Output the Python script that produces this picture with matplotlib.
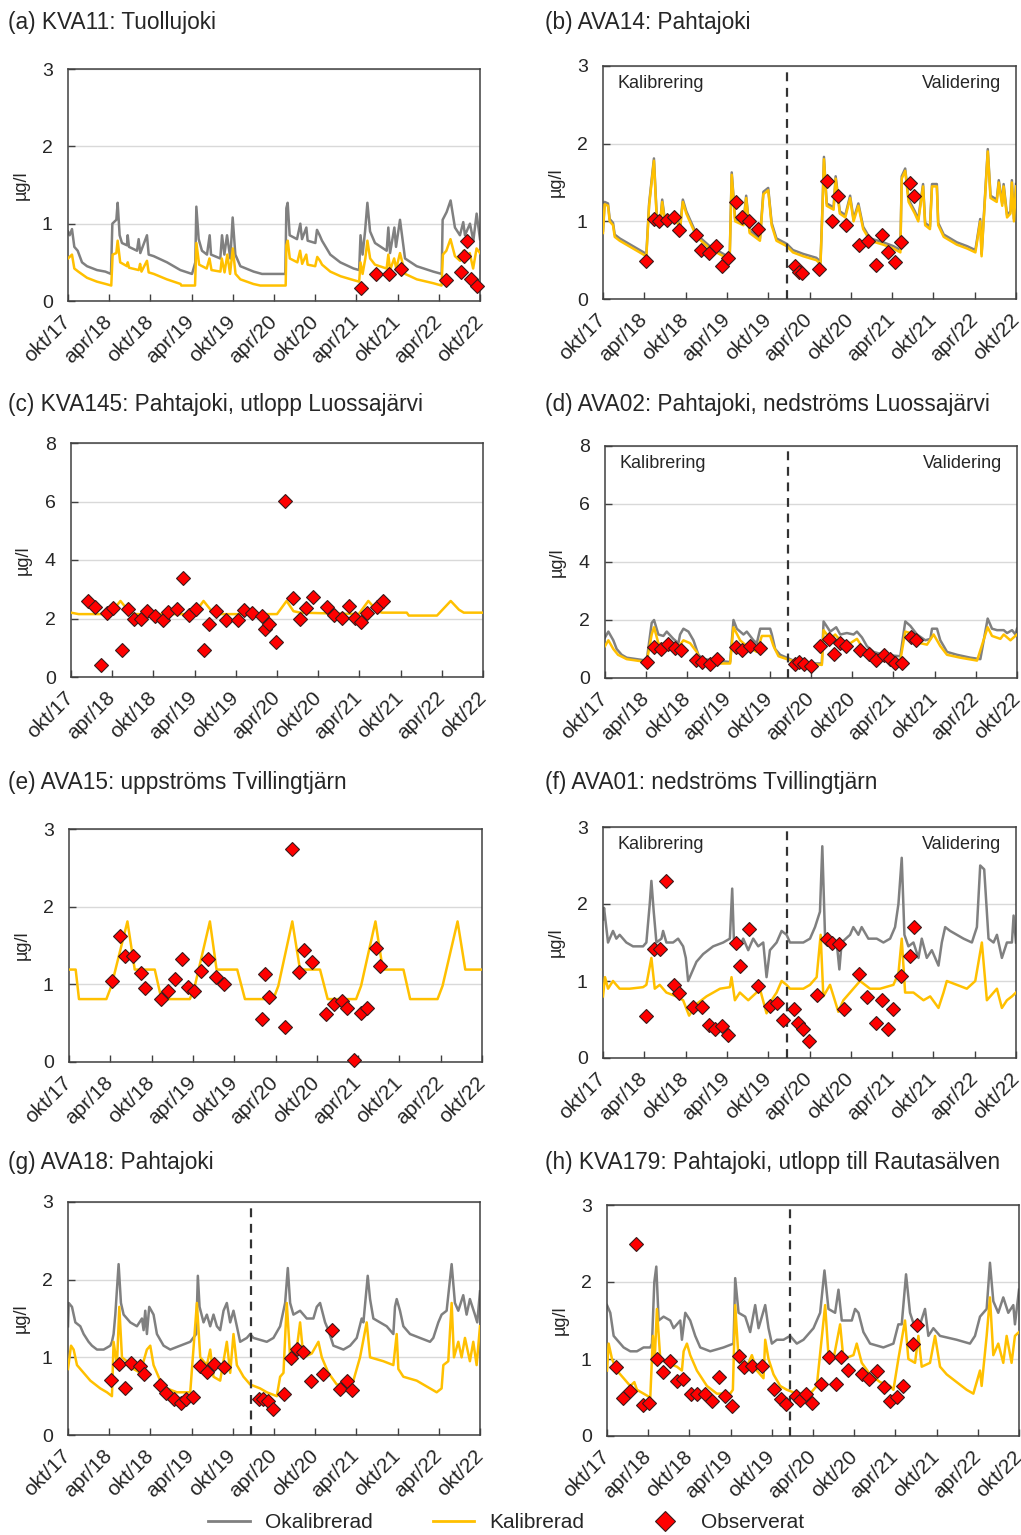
import matplotlib
matplotlib.use("Agg")
import matplotlib.pyplot as plt
from matplotlib.lines import Line2D

plt.rcParams['font.family'] = ['Liberation Sans', 'DejaVu Sans']

# x = months after okt/17
tick_pos = list(range(0, 61, 6))
tick_lab = ['okt/17', 'apr/18', 'okt/18', 'apr/19', 'okt/19', 'apr/20',
            'okt/20', 'apr/21', 'okt/21', 'apr/22', 'okt/22']
split_month = 26.7

# (a) KVA11
a_gray = [(0, 0.9), (0.24, 0.85), (0.58, 0.93), (0.92, 0.7), (1.41, 0.65), (2.04, 0.5), (2.77, 0.45),
          (4.22, 0.4), (5.44, 0.38), (6.26, 0.35), (6.46, 1.0), (7.04, 1.05), (7.23, 1.27), (7.52, 0.85),
          (7.86, 0.75), (8.59, 0.72), (8.69, 0.85), (8.88, 0.7), (10.05, 0.65), (10.29, 0.8), (10.53, 0.62),
          (11.5, 0.85), (11.75, 0.6), (12.48, 0.58), (14.42, 0.5), (16.36, 0.4), (18.06, 0.35), (18.54, 0.5),
          (18.69, 1.22), (19.03, 0.8), (19.51, 0.65), (20.24, 0.6), (20.63, 0.85), (20.83, 0.6), (22.18, 0.55),
          (22.43, 0.85), (22.77, 0.6), (23.16, 0.85), (23.64, 0.55), (23.98, 1.08), (24.37, 0.6), (25.1, 0.45),
          (27.04, 0.38), (28.25, 0.35), (31.65, 0.35), (31.8, 1.2), (31.99, 1.27), (32.28, 0.85), (33.35, 0.8),
          (33.83, 1.0), (34.08, 0.8), (34.71, 0.95), (34.9, 0.78), (36.02, 0.75), (36.26, 0.92), (36.65, 0.85),
          (36.99, 0.78), (38.2, 0.6), (39.65, 0.5), (41.59, 0.42), (42.4, 0.4), (42.6, 0.85), (42.9, 0.6),
          (43.26, 0.9), (43.6, 1.27), (43.99, 0.9), (44.71, 0.75), (46.41, 0.65), (46.65, 0.95), (46.9, 0.62),
          (47.53, 0.95), (47.77, 0.7), (48.35, 1.05), (49.08, 0.55), (50.78, 0.45), (53.2, 0.38), (54.42, 0.35),
          (54.56, 1.05), (55.14, 1.15), (55.72, 1.3), (56.35, 0.95), (57.08, 0.85), (57.56, 1.02), (57.81, 0.85),
          (58.54, 1.0), (59.03, 0.78), (59.51, 1.13), (60, 0.8)]
a_yel = [(0, 0.55), (0.58, 0.6), (0.92, 0.42), (1.5, 0.38), (2.77, 0.3), (4.22, 0.25), (5.5, 0.22), (6.3, 0.2),
         (6.5, 0.6), (7.04, 0.62), (7.23, 0.78), (7.6, 0.5), (8.6, 0.45), (8.7, 0.5), (8.9, 0.43), (10.3, 0.4),
         (10.5, 0.48), (10.7, 0.38), (11.5, 0.52), (11.75, 0.37), (12.5, 0.35), (14.4, 0.28), (16.4, 0.22),
         (16.5, 0.2), (18.5, 0.2), (18.7, 0.75), (19.1, 0.47), (20.2, 0.42), (20.6, 0.55), (20.9, 0.4),
         (22.2, 0.38), (22.4, 0.55), (22.8, 0.37), (23.2, 0.6), (23.6, 0.35), (24.0, 0.68), (24.4, 0.35),
         (25.1, 0.28), (27.0, 0.22), (28.0, 0.2), (31.7, 0.2), (31.8, 0.72), (32.0, 0.78), (32.3, 0.55),
         (33.4, 0.5), (33.8, 0.65), (34.1, 0.48), (34.7, 0.6), (34.9, 0.47), (36.0, 0.45), (36.3, 0.57),
         (36.7, 0.52), (37.0, 0.47), (38.2, 0.38), (39.7, 0.32), (41.6, 0.27), (42.4, 0.25), (42.6, 0.5),
         (42.9, 0.35), (43.3, 0.55), (43.6, 0.78), (44.0, 0.55), (44.7, 0.47), (46.4, 0.42), (46.65, 0.6),
         (46.9, 0.4), (47.5, 0.55), (47.8, 0.42), (48.35, 0.62), (49.1, 0.35), (50.8, 0.28), (53.2, 0.23),
         (54.4, 0.2), (54.6, 0.6), (55.1, 0.65), (55.7, 0.8), (56.35, 0.58), (57.1, 0.52), (57.6, 0.65),
         (57.8, 0.5), (58.5, 0.62), (59.0, 0.42), (59.5, 0.68), (60, 0.62)]
a_obs = [(42.7, 0.17), (44.9, 0.35), (46.8, 0.35), (48.5, 0.41), (55.0, 0.27), (57.2, 0.38), (57.6, 0.58),
         (58.1, 0.77), (58.7, 0.29), (59.6, 0.19)]

# (b) AVA14
b_months = [0, 0.24, 0.73, 0.97, 1.46, 1.7, 2.43, 6.3, 6.7, 7.4, 7.8, 8.35, 8.6, 8.97, 10.7, 11.2, 11.6, 12.1,
            13.6, 15.5, 17.5, 18.4, 18.7, 19.2, 20.4, 20.8, 21.3, 22.8, 23.3, 24.0, 24.5, 25.2, 26.7, 27.6, 29.1,
            31.0, 31.6, 31.9, 32.1, 32.5, 33.5, 33.8, 34.4, 35.2, 35.9, 36.4, 37.1, 37.8, 38.8, 40.7, 42.2, 43.2,
            43.4, 43.9, 44.4, 45.3, 45.8, 46.5, 46.8, 47.5, 47.8, 48.5, 48.7, 49.5, 51.4, 52.9, 54.1, 54.8, 55.0,
            55.9, 56.3, 57.2, 57.5, 58.0, 58.2, 58.7, 59.2, 59.4, 59.7, 60]
b_yel = [0.85, 1.22, 1.2, 1.0, 0.95, 0.8, 0.75, 0.55, 1.2, 1.78, 1.05, 1.0, 1.25, 1.0, 1.0, 0.9, 1.25, 1.1, 0.8,
         0.65, 0.55, 0.5, 1.6, 1.0, 0.95, 1.3, 0.85, 0.75, 1.35, 1.4, 0.95, 0.75, 0.68, 0.6, 0.55, 0.5, 0.45, 1.2,
         1.8, 1.2, 1.15, 1.55, 1.1, 1.05, 1.3, 1.0, 1.2, 0.9, 0.75, 0.7, 0.65, 0.6, 1.55, 1.65, 1.25, 1.1, 1.0,
         1.45, 0.95, 0.9, 1.45, 1.45, 0.95, 0.8, 0.7, 0.65, 0.6, 1.0, 0.55, 1.9, 1.3, 1.25, 1.5, 1.2, 1.45, 1.05,
         1.1, 1.5, 1.0, 1.45]
b_gray = [0.88, 1.25, 1.23, 1.03, 0.98, 0.83, 0.78, 0.58, 1.23, 1.81, 1.08, 1.03, 1.28, 1.03, 1.03, 0.93, 1.28,
          1.13, 0.83, 0.68, 0.58, 0.53, 1.63, 1.03, 0.98, 1.33, 0.88, 0.78, 1.38, 1.43, 0.98, 0.78, 0.71, 0.63,
          0.58, 0.53, 0.48, 1.23, 1.83, 1.23, 1.18, 1.58, 1.13, 1.08, 1.33, 1.03, 1.23, 0.93, 0.78, 0.73, 0.68,
          0.63, 1.58, 1.68, 1.28, 1.13, 1.03, 1.48, 0.98, 0.93, 1.48, 1.48, 0.98, 0.83, 0.73, 0.68, 0.63, 1.03,
          0.58, 1.93, 1.33, 1.28, 1.53, 1.23, 1.48, 1.08, 1.13, 1.53, 1.03, 1.48]
b_obs = [(6.3, 0.49), (7.37, 1.03), (8.15, 1.0), (9.31, 1.02), (10.33, 1.06), (11.11, 0.89), (13.48, 0.82),
         (14.21, 0.63), (15.37, 0.59), (16.39, 0.68), (17.31, 0.42), (18.19, 0.53), (19.25, 1.25), (20.13, 1.06),
         (21.24, 1.0), (22.5, 0.9), (27.89, 0.42), (28.42, 0.35), (28.95, 0.34), (31.43, 0.38), (32.49, 1.52),
         (33.32, 1.0), (34.19, 1.33), (35.31, 0.95), (37.2, 0.7), (38.55, 0.75), (39.67, 0.44), (40.5, 0.83),
         (41.37, 0.6), (42.43, 0.47), (43.31, 0.73), (44.62, 1.5), (45.25, 1.33)]

# (c) KVA145
c_yel = [(0, 2.2), (1.1, 2.15), (5.7, 2.15), (7.2, 2.6), (8.4, 2.25), (9.1, 2.15), (17.9, 2.15), (19.3, 2.6),
         (20.5, 2.25), (21.3, 2.15), (30.0, 2.15), (31.4, 2.6), (32.4, 2.25), (33.4, 2.2), (41.9, 2.15),
         (43.3, 2.6), (44.6, 2.25), (45.3, 2.2), (48.9, 2.2), (49.2, 2.1), (53.3, 2.1), (55.3, 2.6), (56.5, 2.3),
         (57.2, 2.2), (60, 2.2)]
c_obs = [(2.43, 2.61), (3.54, 2.38), (4.37, 0.40), (5.24, 2.18), (6.12, 2.37), (7.43, 0.92), (8.25, 2.34),
         (9.13, 1.97), (10.24, 1.97), (11.07, 2.26), (12.28, 2.09), (13.35, 1.95), (14.13, 2.23), (15.44, 2.34),
         (16.26, 3.40), (17.23, 2.12), (18.25, 2.34), (19.32, 0.92), (20.05, 1.81), (21.12, 2.26), (22.62, 1.95),
         (24.32, 1.95), (25.15, 2.29), (26.36, 2.18), (27.82, 2.09), (28.3, 1.63), (28.88, 1.81), (29.9, 1.20),
         (31.21, 6.01), (32.33, 2.69), (33.4, 1.97), (34.27, 2.35), (35.19, 2.75), (37.28, 2.38), (38.35, 2.12),
         (39.47, 2.03), (40.53, 2.43), (41.41, 2.01), (42.28, 1.89), (43.11, 2.18), (44.56, 2.41), (45.39, 2.61)]

# (d) AVA02
d_gray = [(0, 1.4), (0.49, 1.6), (1.21, 1.3), (1.7, 1.0), (2.43, 0.8), (3.16, 0.7), (4.62, 0.65), (6.07, 0.6),
          (6.8, 1.9), (7.14, 2.0), (7.77, 1.5), (8.5, 1.45), (8.99, 1.6), (9.96, 1.35), (10.69, 1.2), (10.93, 1.5),
          (11.42, 1.7), (12.15, 1.6), (12.88, 1.3), (13.6, 0.8), (14.33, 0.65), (16.28, 0.6), (18.22, 0.55),
          (18.71, 2.0), (19.19, 1.7), (20.17, 1.5), (20.65, 1.6), (21.62, 1.3), (22.11, 1.2), (22.6, 1.7),
          (24.05, 1.7), (24.3, 1.5), (24.78, 1.0), (25.51, 0.8), (26.48, 0.7), (27.45, 0.6), (29.88, 0.5),
          (31.58, 0.5), (31.83, 1.95), (32.8, 1.6), (33.67, 1.75), (34.26, 1.5), (35.23, 1.55), (36.2, 1.5),
          (36.69, 1.6), (37.42, 1.4), (38.14, 1.1), (39.12, 0.9), (40.57, 0.8), (43.0, 0.75), (43.73, 1.95),
          (44.46, 1.8), (45.43, 1.5), (46.65, 1.3), (47.38, 1.35), (47.62, 1.7), (48.35, 1.7), (48.83, 1.3),
          (49.81, 0.9), (51.26, 0.8), (53.21, 0.7), (54.66, 0.65), (55.73, 2.05), (56.36, 1.7), (57.09, 1.65),
          (58.07, 1.65), (58.55, 1.55), (59.28, 1.65), (59.77, 1.5), (60, 1.7)]
d_yel = [(0, 1.1), (0.49, 1.3), (1.21, 1.0), (1.9, 0.8), (3.16, 0.65), (4.62, 0.6), (6.07, 0.55), (6.8, 1.5),
         (7.14, 1.75), (7.77, 1.2), (8.99, 1.1), (10.45, 1.0), (11.42, 1.3), (12.39, 1.2), (13.36, 0.9),
         (13.85, 0.6), (16.28, 0.5), (18.22, 0.5), (18.71, 1.75), (19.68, 1.3), (20.65, 1.1), (22.11, 0.9),
         (22.84, 1.45), (24.05, 1.45), (24.54, 1.1), (25.27, 0.75), (26.48, 0.65), (27.94, 0.55), (31.58, 0.45),
         (31.83, 1.65), (32.8, 1.35), (33.53, 1.5), (34.26, 1.3), (35.72, 1.2), (36.69, 1.35), (37.66, 1.0),
         (39.12, 0.75), (41.06, 0.65), (43.0, 0.6), (43.73, 1.6), (44.46, 1.55), (45.92, 1.2), (46.89, 1.15),
         (47.86, 1.5), (48.83, 1.1), (49.81, 0.8), (51.75, 0.7), (54.18, 0.6), (55.73, 1.75), (56.36, 1.45),
         (57.58, 1.35), (58.07, 1.5), (59.04, 1.3), (60, 1.5)]
d_obs = [(6.07, 0.54), (7.14, 1.07), (8.11, 1.01), (9.14, 1.16), (10.2, 1.04), (11.03, 0.96), (13.22, 0.63),
         (14.19, 0.54), (15.31, 0.47), (16.28, 0.67), (19.1, 1.07), (19.92, 0.96), (21.14, 1.09), (22.5, 1.05),
         (27.7, 0.47), (28.18, 0.54), (29.01, 0.47), (29.98, 0.40), (31.24, 1.10), (32.56, 1.36), (33.38, 0.84),
         (34.26, 1.21), (35.13, 1.10), (37.17, 0.96), (38.39, 0.84), (39.46, 0.63), (40.57, 0.78), (41.45, 0.67),
         (42.27, 0.53), (43.25, 0.53), (44.61, 1.42), (45.34, 1.32)]

# (e) AVA15
e_yel = [(0, 1.19), (0.97, 1.19), (1.45, 0.81), (5.43, 0.81), (6.16, 0.98), (8.49, 1.81), (9.55, 1.19),
         (12.46, 1.19), (13.43, 0.81), (17.56, 0.81), (18.28, 0.98), (20.47, 1.81), (21.44, 1.19), (24.44, 1.19),
         (25.56, 0.81), (29.68, 0.81), (30.41, 0.98), (32.44, 1.81), (33.56, 1.19), (36.47, 1.19), (37.58, 0.81),
         (41.71, 0.81), (42.43, 0.98), (44.52, 1.81), (45.59, 1.19), (48.59, 1.19), (49.56, 0.81), (53.54, 0.81),
         (54.27, 0.98), (56.45, 1.81), (57.57, 1.19), (60, 1.19)]
e_obs = [(6.26, 1.04), (7.37, 1.62), (8.2, 1.36), (9.31, 1.36), (10.43, 1.15), (11.11, 0.95), (13.43, 0.81),
         (14.4, 0.91), (15.37, 1.07), (16.44, 1.32), (17.31, 0.96), (18.19, 0.91), (19.16, 1.17), (20.22, 1.32),
         (21.29, 1.09), (22.55, 1.00), (27.98, 0.56), (28.47, 1.13), (29.05, 0.84), (31.38, 0.45), (32.44, 2.74),
         (33.41, 1.16), (34.14, 1.44), (35.26, 1.29), (37.29, 0.62), (38.51, 0.75), (39.62, 0.79), (40.45, 0.69),
         (41.42, 0.02), (42.39, 0.63), (43.36, 0.69), (44.57, 1.47), (45.2, 1.24)]

# (f) AVA01
f_gray = [(0, 1.8), (0.15, 1.95), (0.73, 1.5), (1.45, 1.65), (1.94, 1.55), (2.42, 1.6), (3.39, 1.5), (4.36, 1.45),
          (5.82, 1.45), (6.3, 1.5), (6.79, 2.0), (7.03, 2.3), (7.37, 1.9), (7.76, 1.5), (8.49, 1.55), (8.73, 1.65),
          (9.21, 1.5), (10.18, 1.5), (10.91, 1.55), (11.64, 1.45), (12.03, 1.3), (12.37, 1.0), (12.85, 1.1),
          (13.58, 1.25), (14.55, 1.35), (16.0, 1.45), (17.46, 1.5), (18.43, 1.55), (18.77, 2.2), (19.01, 1.55),
          (19.88, 1.45), (20.37, 1.55), (21.1, 1.4), (21.82, 1.55), (22.55, 1.45), (23.28, 1.5), (23.76, 1.05),
          (24.25, 1.4), (25.22, 1.5), (25.95, 1.65), (26.67, 1.6), (27.16, 1.5), (29.1, 1.5), (30.07, 1.55),
          (30.8, 1.7), (31.52, 1.9), (31.86, 2.75), (32.25, 1.6), (32.98, 1.5), (33.95, 1.5), (34.34, 1.15),
          (34.67, 1.5), (35.89, 1.6), (36.37, 1.7), (37.1, 1.6), (37.58, 1.7), (38.55, 1.55), (39.77, 1.55),
          (40.74, 1.5), (41.71, 1.55), (42.43, 1.7), (42.92, 2.0), (43.4, 2.6), (43.79, 1.6), (44.37, 1.45),
          (45.1, 1.5), (45.83, 1.3), (46.31, 1.55), (47.04, 1.3), (47.77, 1.4), (48.74, 1.2), (49.22, 1.5),
          (49.71, 1.7), (50.44, 1.65), (52.38, 1.55), (53.59, 1.5), (54.32, 1.7), (54.8, 2.5), (55.38, 2.45),
          (56.01, 1.55), (56.74, 1.5), (57.23, 1.6), (57.95, 1.3), (58.68, 1.5), (59.41, 1.5), (59.65, 1.85),
          (60, 1.5)]
f_yel = [(0, 0.8), (0.29, 1.05), (0.73, 0.9), (1.45, 1.0), (2.42, 0.9), (3.88, 0.9), (5.82, 0.92), (6.3, 0.95),
         (7.03, 1.3), (7.52, 0.9), (8.24, 0.95), (9.21, 0.85), (10.67, 0.8), (11.64, 0.75), (12.51, 0.55),
         (13.58, 0.7), (15.03, 0.8), (17.0, 0.9), (18.43, 0.92), (18.67, 1.05), (19.16, 0.75), (19.88, 0.85),
         (21.1, 0.75), (22.31, 0.85), (22.79, 0.9), (23.76, 0.58), (24.49, 0.75), (25.22, 0.85), (25.95, 1.0),
         (26.67, 0.95), (27.16, 0.9), (29.1, 0.9), (30.07, 0.95), (31.04, 1.05), (31.62, 1.6), (32.01, 0.8),
         (32.98, 0.95), (34.19, 0.6), (34.92, 0.75), (35.89, 0.85), (36.86, 0.95), (37.34, 1.0), (38.8, 0.9),
         (40.26, 0.9), (42.19, 0.95), (42.92, 1.1), (43.4, 1.55), (43.89, 0.85), (45.1, 0.85), (46.56, 0.75),
         (47.53, 0.8), (48.74, 0.65), (49.47, 0.85), (49.95, 1.0), (51.41, 0.95), (52.86, 0.9), (54.08, 1.0),
         (55.04, 1.5), (55.77, 0.75), (56.74, 0.85), (57.23, 0.9), (57.95, 0.65), (58.68, 0.75), (59.41, 0.8),
         (60, 0.85)]
f_obs = [(6.3, 0.55), (7.37, 1.42), (8.24, 1.42), (9.12, 2.30), (10.33, 0.95), (11.06, 0.84), (13.09, 0.66),
         (14.31, 0.66), (15.37, 0.43), (16.25, 0.38), (17.31, 0.42), (18.19, 0.30), (19.3, 1.49), (19.88, 1.19),
         (21.19, 1.68), (22.45, 0.93), (24.25, 0.67), (25.32, 0.72), (26.19, 0.50), (27.74, 0.63), (28.37, 0.45),
         (29.0, 0.38), (29.92, 0.22), (31.13, 0.82), (32.49, 1.55), (33.32, 1.49), (34.29, 1.48), (35.06, 0.63),
         (37.2, 1.09), (38.31, 0.79), (39.62, 0.45), (40.5, 0.75), (41.37, 0.38), (42.19, 0.63), (43.31, 1.07),
         (44.62, 1.32), (45.25, 1.70)]

# (g) AVA18
g_gray = [(0, 1.4), (0.1, 1.7), (0.58, 1.65), (1.07, 1.45), (1.79, 1.4), (2.28, 1.3), (3.0, 1.2), (3.49, 1.15),
          (4.22, 1.1), (5.19, 1.1), (6.16, 1.15), (6.4, 1.2), (6.64, 1.3), (6.89, 1.55), (7.37, 2.2), (7.71, 1.7),
          (8.1, 1.55), (9.07, 1.45), (10.04, 1.4), (10.77, 1.5), (11.01, 1.35), (11.25, 1.6), (11.49, 1.3),
          (11.83, 1.65), (12.46, 1.55), (12.95, 1.3), (13.92, 1.15), (14.89, 1.1), (16.34, 1.15), (17.8, 1.2),
          (18.67, 1.3), (18.91, 2.05), (19.16, 1.65), (19.74, 1.45), (20.22, 1.55), (20.71, 1.4), (21.19, 1.55),
          (21.68, 1.4), (22.16, 1.35), (22.65, 1.6), (23.13, 1.7), (23.62, 1.45), (24.1, 1.6), (24.59, 1.4),
          (25.07, 1.2), (26.04, 1.25), (26.53, 1.3), (27.01, 1.25), (28.95, 1.2), (29.92, 1.25), (30.89, 1.4),
          (31.62, 1.7), (32.01, 2.15), (32.35, 1.7), (32.83, 1.55), (33.8, 1.6), (34.77, 1.5), (35.74, 1.5),
          (36.23, 1.65), (36.71, 1.7), (37.44, 1.45), (37.92, 1.35), (38.65, 1.15), (40.11, 1.1), (41.08, 1.15),
          (42.05, 1.25), (42.77, 1.5), (43.02, 1.45), (43.65, 2.05), (43.99, 1.75), (44.47, 1.5), (45.44, 1.45),
          (46.41, 1.4), (47.38, 1.3), (47.62, 1.65), (47.87, 1.75), (48.35, 1.6), (48.84, 1.4), (49.81, 1.3),
          (51.26, 1.25), (52.72, 1.2), (53.2, 1.25), (53.93, 1.45), (54.41, 1.55), (55.14, 1.6), (55.87, 2.2),
          (56.35, 1.7), (56.84, 1.6), (57.56, 1.8), (58.05, 1.55), (58.53, 1.75), (59.26, 1.55), (59.6, 1.45),
          (60, 1.85)]
g_yel = [(0, 0.85), (0.44, 1.15), (0.82, 1.1), (1.31, 0.9), (2.28, 0.8), (3.25, 0.7), (4.7, 0.6), (5.67, 0.55),
         (6.4, 0.5), (6.64, 1.2), (7.13, 0.9), (7.47, 1.65), (7.86, 1.0), (8.58, 0.95), (9.55, 0.85), (10.52, 0.8),
         (11.49, 1.1), (11.98, 1.15), (12.46, 0.9), (13.43, 0.7), (14.4, 0.6), (15.86, 0.55), (17.8, 0.55),
         (18.77, 1.7), (19.26, 1.0), (20.22, 0.9), (20.71, 1.1), (21.19, 0.75), (22.16, 0.7), (23.13, 1.2),
         (23.62, 0.8), (24.1, 1.3), (24.59, 0.9), (25.56, 0.75), (26.53, 0.65), (27.98, 0.6), (28.95, 0.55),
         (30.41, 0.5), (30.89, 0.75), (31.38, 0.8), (31.86, 1.7), (32.35, 1.0), (33.08, 0.95), (33.8, 1.45),
         (34.29, 1.0), (35.5, 1.05), (36.47, 1.2), (36.96, 1.0), (37.92, 0.8), (39.14, 0.65), (40.59, 0.65),
         (41.56, 0.7), (42.53, 1.0), (43.5, 1.45), (43.99, 1.0), (45.93, 0.95), (47.38, 0.9), (47.87, 1.3),
         (48.11, 0.85), (48.84, 0.75), (50.78, 0.7), (52.72, 0.6), (53.69, 0.55), (54.41, 0.6), (54.66, 0.9),
         (55.38, 0.95), (55.87, 1.7), (56.21, 1.0), (56.84, 1.2), (57.32, 1.0), (57.81, 1.25), (58.53, 0.95),
         (59.02, 1.2), (59.51, 0.9), (60, 1.4)]
g_obs = [(6.3, 0.71), (7.37, 0.91), (8.24, 0.61), (9.21, 0.93), (10.52, 0.89), (11.11, 0.78), (13.43, 0.65),
         (14.31, 0.54), (15.37, 0.46), (16.44, 0.41), (17.22, 0.46), (18.19, 0.49), (19.25, 0.89), (20.22, 0.81),
         (21.19, 0.91), (22.65, 0.88), (27.84, 0.46), (28.47, 0.46), (29.1, 0.44), (29.92, 0.34), (31.47, 0.53),
         (32.49, 0.99), (33.32, 1.11), (34.19, 1.07), (35.35, 0.69), (37.2, 0.78), (38.51, 1.35), (39.62, 0.59),
         (40.59, 0.69), (41.42, 0.58)]

# (h) KVA179
h_gray = [(0, 1.7), (0.48, 1.6), (0.97, 1.3), (1.45, 1.25), (2.42, 1.15), (3.39, 1.1), (4.36, 1.1), (5.33, 1.15),
          (6.3, 1.15), (6.55, 1.2), (6.89, 2.0), (7.18, 2.2), (7.52, 1.5), (8.24, 1.55), (9.21, 1.5), (9.7, 1.4),
          (10.67, 1.5), (10.91, 1.25), (11.4, 1.6), (12.12, 1.5), (12.85, 1.3), (13.58, 1.15), (15.03, 1.1),
          (16.97, 1.15), (18.43, 1.2), (18.67, 2.05), (19.16, 1.6), (20.13, 1.55), (20.85, 1.35), (21.58, 1.7),
          (22.07, 1.4), (23.04, 1.7), (23.52, 1.4), (24.01, 1.2), (24.73, 1.25), (25.7, 1.25), (26.67, 1.3),
          (27.64, 1.2), (28.61, 1.25), (30.07, 1.4), (31.04, 1.6), (31.67, 2.15), (32.25, 1.65), (33.22, 1.6),
          (33.71, 1.9), (34.19, 1.5), (35.65, 1.5), (36.13, 1.65), (36.62, 1.6), (37.34, 1.35), (38.31, 1.2),
          (40.25, 1.15), (41.71, 1.2), (42.43, 1.45), (42.92, 1.45), (43.55, 2.1), (44.13, 1.6), (44.86, 1.4),
          (45.59, 1.45), (46.31, 1.65), (46.8, 1.3), (47.53, 1.4), (48.5, 1.3), (50.92, 1.25), (52.86, 1.2),
          (53.59, 1.3), (54.32, 1.55), (55.29, 1.65), (55.77, 2.25), (56.26, 1.75), (56.98, 1.6), (57.71, 1.8),
          (58.44, 1.6), (59.17, 1.7), (59.41, 1.45), (60, 1.9)]
h_yel = [(0, 0.85), (0.24, 1.2), (0.73, 1.0), (1.45, 0.85), (2.42, 0.75), (3.39, 0.65), (3.98, 0.7), (4.36, 0.6),
         (5.33, 0.55), (6.3, 0.5), (6.69, 1.3), (6.93, 0.95), (7.27, 1.65), (7.76, 1.0), (8.73, 0.95), (10.18, 0.9),
         (10.91, 0.85), (11.16, 1.1), (11.64, 1.2), (12.12, 1.05), (13.09, 0.85), (14.55, 0.65), (16.0, 0.55),
         (17.94, 0.55), (18.33, 0.6), (18.67, 1.7), (19.16, 1.0), (20.37, 0.9), (21.1, 1.05), (21.82, 0.85),
         (22.79, 0.75), (23.04, 1.25), (23.52, 1.0), (24.25, 0.8), (25.22, 0.65), (26.19, 0.6), (27.64, 0.55),
         (29.58, 0.55), (30.55, 0.65), (31.77, 1.7), (32.25, 1.05), (32.98, 1.0), (33.95, 1.45), (34.43, 1.0),
         (35.89, 1.05), (36.37, 1.2), (37.1, 0.95), (38.31, 0.8), (39.77, 0.7), (41.22, 0.65), (41.71, 0.6),
         (42.43, 1.0), (43.4, 1.5), (43.89, 1.0), (44.86, 0.95), (45.35, 1.3), (45.83, 0.9), (47.04, 0.95),
         (47.77, 1.3), (48.5, 0.9), (49.47, 0.8), (50.92, 0.7), (52.38, 0.6), (53.35, 0.55), (54.32, 0.85),
         (54.56, 0.65), (55.29, 1.3), (55.77, 1.8), (56.26, 1.05), (56.98, 1.2), (57.71, 0.95), (58.2, 1.3),
         (58.92, 0.95), (59.41, 1.3), (60, 1.35)]
h_obs = [(1.36, 0.90), (2.33, 0.50), (3.39, 0.58), (4.27, 2.50), (5.19, 0.40), (6.06, 0.43), (7.27, 1.00),
         (8.15, 0.83), (9.12, 0.98), (10.18, 0.71), (11.06, 0.74), (12.27, 0.55), (13.09, 0.55), (14.31, 0.55),
         (15.28, 0.46), (16.25, 0.77), (17.12, 0.52), (18.19, 0.39), (19.25, 1.04), (19.88, 0.89), (21.1, 0.91),
         (22.55, 0.91), (24.25, 0.61), (25.32, 0.48), (26.09, 0.42), (27.55, 0.52), (28.13, 0.47), (28.95, 0.55),
         (29.83, 0.43), (31.13, 0.68), (32.4, 1.02), (33.32, 0.68), (34.09, 1.02), (35.06, 0.86), (37.1, 0.80),
         (38.22, 0.74), (39.28, 0.84), (40.4, 0.64), (41.22, 0.45), (42.19, 0.51), (43.06, 0.65), (44.52, 1.20),
         (45.1, 1.44)]

GRAY = '#808080'
YEL = '#ffc000'
RED = '#ff0000'
TXT = '#262626'
W, H = 1021, 1535

fig = plt.figure(figsize=(W / 100, H / 100), dpi=100)


def xy(pairs):
    return [p[0] for p in pairs], [p[1] for p in pairs]


def panel(box, title, tpos, ymax, ystep, gray=None, yel=None, obs=None, split=False, period_text=False):
    l, r, t, b = box
    ax = fig.add_axes([l / W, 1 - b / H, (r - l) / W, (b - t) / H])
    if gray is not None:
        ax.plot(gray[0], gray[1], color=GRAY, lw=1.8, zorder=2)
    if yel is not None:
        ax.plot(yel[0], yel[1], color=YEL, lw=1.8, zorder=3)
    if obs is not None:
        ox, oy = xy(obs)
        ax.plot(ox, oy, ls='none', marker='D', ms=6.8, mfc=RED, mec='#3a1a1a', mew=0.8,
                zorder=5, clip_on=False)
    ax.set_xlim(0, 60)
    ax.set_ylim(0, ymax)
    ax.set_yticks(list(range(0, ymax + 1, ystep)))
    ax.set_xticks(tick_pos)
    ax.set_xticklabels(tick_lab, rotation=45, ha='right', va='center', rotation_mode='anchor')
    ax.tick_params(direction='in', length=5, width=1, colors='#404040', labelcolor=TXT)
    ax.tick_params(axis='x', labelsize=15, pad=13)
    ax.tick_params(axis='y', labelsize=14, pad=11)
    ax.grid(axis='y', color='#d9d9d9', lw=1, zorder=0)
    ax.set_axisbelow(True)
    for s in ax.spines.values():
        s.set_color('#404040')
        s.set_linewidth(1.1)
    ax.set_ylabel('µg/l', fontsize=13, color=TXT, labelpad=9)
    if split:
        ax.axvline(split_month, color='#333333', lw=1.6, ls=(0, (4, 3)), zorder=4)
    if period_text:
        ax.text(0.035, 0.925, 'Kalibrering', transform=ax.transAxes, fontsize=13,
                color=TXT, va='center', ha='left')
        ax.text(0.965, 0.925, 'Validering', transform=ax.transAxes, fontsize=13,
                color=TXT, va='center', ha='right')
    fig.text(tpos[0] / W, 1 - tpos[1] / H, title, fontsize=16.3, color=TXT, va='center', ha='left')
    return ax


panel((68, 480, 69, 301), '(a) KVA11: Tuollujoki', (8, 22), 3, 1,
      gray=xy(a_gray), yel=xy(a_yel), obs=a_obs)
panel((603, 1016, 66, 299), '(b) AVA14: Pahtajoki', (545, 22), 3, 1,
      gray=(b_months, b_gray), yel=(b_months, b_yel), obs=b_obs, split=True, period_text=True)
panel((71, 483, 443, 677), '(c) KVA145: Pahtajoki, utlopp Luossajärvi', (8, 404), 8, 2,
      yel=xy(c_yel), obs=c_obs)
panel((605, 1017, 446, 678), '(d) AVA02: Pahtajoki, nedströms Luossajärvi', (545, 404), 8, 2,
      gray=xy(d_gray), yel=xy(d_yel), obs=d_obs, split=True, period_text=True)
panel((69, 482, 829, 1062), '(e) AVA15: uppströms Tvillingtjärn', (8, 782), 3, 1,
      yel=xy(e_yel), obs=e_obs)
panel((603, 1016, 827, 1058), '(f) AVA01: nedströms Tvillingtjärn', (545, 782), 3, 1,
      gray=xy(f_gray), yel=xy(f_yel), obs=f_obs, split=True, period_text=True)
panel((68, 480, 1202, 1435), '(g) AVA18: Pahtajoki', (8, 1162), 3, 1,
      gray=xy(g_gray), yel=xy(g_yel), obs=g_obs, split=True)
panel((607, 1019, 1205, 1436), '(h) KVA179: Pahtajoki, utlopp till Rautasälven', (545, 1162), 3, 1,
      gray=xy(h_gray), yel=xy(h_yel), obs=h_obs, split=True)

handles = [Line2D([], [], color=GRAY, lw=2),
           Line2D([], [], color=YEL, lw=2),
           Line2D([], [], ls='none', marker='D', ms=10, mfc=RED, mec='#3a1a1a', mew=0.8)]
fig.legend(handles, ['Okalibrerad', 'Kalibrerad', 'Observerat'], loc='center',
           bbox_to_anchor=(506 / W, 1 - 1523 / H), ncol=3, frameon=False, fontsize=15,
           handlelength=2.0, handletextpad=0.7, columnspacing=2.9, labelcolor=TXT)

fig.savefig('out.png', dpi=100)
